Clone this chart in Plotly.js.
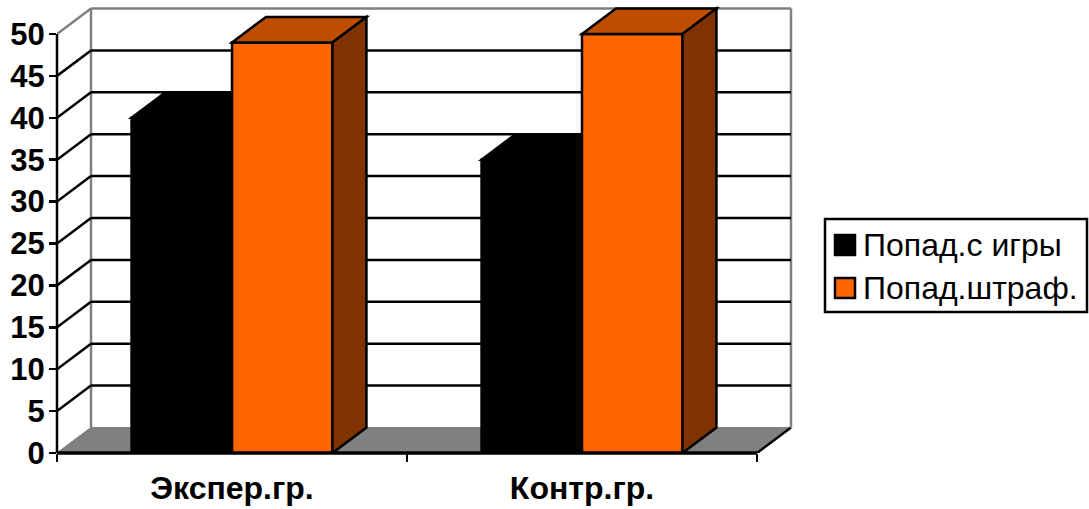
<!DOCTYPE html>
<html>
<head>
<meta charset="utf-8">
<script src="https://cdn.plot.ly/plotly-3.0.1.min.js"></script>
<style>html,body{margin:0;padding:0;background:#fff}</style>
</head>
<body>
<div id="chart" style="width:1089px;height:509px"></div>
<script>
// Chart data
const categories = ['Экспер.гр.', 'Контр.гр.'];
const seriesNames = ['Попад.с игры', 'Попад.штраф.'];
const goalsFromPlay = [40, 35];
const freeThrows = [49, 50];
const yTicks = [0, 5, 10, 15, 20, 25, 30, 35, 40, 45, 50];

// Colours
const BLACK = '#000000', WALL = '#808080';
const ORANGE = '#FF6600', ORANGE_TOP = '#BF4D00', ORANGE_SIDE = '#803300';

// Plot frame in pixels
const W = 1089, H = 509;
const L = 57, R = 793, T = 6, B = 453;
const UNIT_X = 350, UNIT_Y = 8.38;     // pixels per category / per value unit
const DX = 34 / UNIT_X, DY = 25.5 / UNIT_Y; // oblique depth in data units
const BARGAP = 0.426, BAR_W = (1 - BARGAP) / 2;
const EDGE = 2.5;

const xMin = -0.5, xMax = xMin + (R - L) / UNIT_X;
const yMax = (B - T) / UNIT_Y;
const xEnd = categories.length - 0.5;
const px = v => (v - L) / (R - L);
const py = v => (B - v) / (B - T);

const poly = pts => 'M' + pts.map(p => p[0] + ',' + p[1]).join('L') + 'Z';
const shapes = [];
const face = (pts, fill, line, width, layer) => shapes.push({
  type: 'path', xref: 'x', yref: 'y', layer, path: poly(pts),
  fillcolor: fill, line: {color: line, width}
});
const seg = (x0, y0, x1, y1, color, width, layer) => shapes.push({
  type: 'line', xref: 'x', yref: 'y', layer, x0, y0, x1, y1, line: {color, width}
});

// Floor and back walls
face([[xMin, 0], [xEnd, 0], [xEnd + DX, DY], [xMin + DX, DY]], WALL, WALL, 1, 'below');
seg(xEnd, 0, xEnd + DX, DY, BLACK, EDGE, 'below');
seg(xMin, 0, xMin + DX, DY, WALL, 1, 'below');
seg(xMin + DX, DY, xMin + DX, 50 + DY, WALL, EDGE, 'below');
seg(xEnd + DX, DY, xEnd + DX, 50 + DY, WALL, EDGE, 'below');
seg(xMin + DX, 50 + DY, xEnd + DX, 50 + DY, WALL, EDGE, 'below');
seg(xMin, 50, xMin + DX, 50 + DY, WALL, EDGE, 'below');
yTicks.slice(1, -1).forEach(v => {
  seg(xMin + DX, v + DY, xEnd + DX, v + DY, BLACK, EDGE, 'below');
  seg(xMin, v, xMin + DX, v + DY, BLACK, EDGE, 'below');
});

// Top and side faces of each bar, offset from its value by the depth
const addFaces = (values, seriesIndex, top, side, line, layer) => values.forEach((v, i) => {
  const x0 = i - (1 - BARGAP) / 2 + seriesIndex * BAR_W, x1 = x0 + BAR_W;
  face([[x0, v], [x1, v], [x1 + DX, v + DY], [x0 + DX, v + DY]], top, line, EDGE, layer);
  face([[x1, 0], [x1 + DX, DY], [x1 + DX, v + DY], [x1, v]], side, line, EDGE, layer);
});
addFaces(goalsFromPlay, 0, BLACK, BLACK, BLACK, 'below');
addFaces(freeThrows, 1, ORANGE_TOP, ORANGE_SIDE, BLACK, 'above');

// Front axis lines, anchored to the frame edge so they are not clipped
shapes.push({type: 'line', xref: 'paper', yref: 'y', x0: 0, x1: 0, y0: 0, y1: 50, layer: 'above',
  line: {color: BLACK, width: EDGE}});
shapes.push({type: 'line', xref: 'x', yref: 'paper', x0: xMin, x1: xEnd, y0: 0, y1: 0, layer: 'above',
  line: {color: BLACK, width: 3.5}});

// Legend box with its swatches
const legendBox = {x0: 825, x1: 1087, y0: 219, y1: 312};
const legendRows = [245, 288];
const legendFills = [BLACK, ORANGE];
shapes.push({type: 'rect', xref: 'paper', yref: 'paper', layer: 'above',
  x0: px(legendBox.x0), x1: px(legendBox.x1), y0: py(legendBox.y0), y1: py(legendBox.y1),
  fillcolor: '#fff', line: {color: BLACK, width: EDGE}});
legendRows.forEach((rowY, i) => shapes.push({type: 'rect', xref: 'paper', yref: 'paper', layer: 'above',
  x0: px(835), x1: px(855), y0: py(rowY - 10), y1: py(rowY + 10),
  fillcolor: legendFills[i], line: {color: BLACK, width: EDGE}}));
const annotations = legendRows.map((rowY, i) => ({
  xref: 'paper', yref: 'paper', x: px(862), y: py(rowY), xanchor: 'left', yanchor: 'middle',
  showarrow: false, text: seriesNames[i], borderpad: 0,
  font: {family: 'Liberation Sans, Arial, sans-serif', size: 32, color: BLACK}
}));

const barTrace = (name, values, color) => ({
  type: 'bar', name, x: categories.map((_, i) => i), y: values,
  marker: {color, line: {color: BLACK, width: EDGE}}, showlegend: false, hoverinfo: 'skip'
});

const data = [
  barTrace(seriesNames[0], goalsFromPlay, BLACK),
  barTrace(seriesNames[1], freeThrows, ORANGE)
];

const layout = {
  width: W, height: H,
  margin: {l: L, r: W - R, t: T, b: H - B, pad: 0},
  paper_bgcolor: '#fff', plot_bgcolor: '#fff',
  barmode: 'group', bargap: BARGAP, bargroupgap: 0,
  showlegend: false,
  font: {family: 'Liberation Sans, Arial, sans-serif', color: BLACK},
  xaxis: {
    range: [xMin, xMax], showgrid: false, zeroline: false, showline: false,
    tickmode: 'array', tickvals: categories.map((_, i) => i), ticktext: categories,
    ticks: '', ticklabelstandoff: 13,
    tickfont: {size: 32, weight: 'bold'},
    minor: {tickmode: 'array', tickvals: [-0.5, 0.5, 1.5], ticks: 'outside', ticklen: 8,
      tickwidth: EDGE, tickcolor: BLACK, showgrid: false}
  },
  yaxis: {
    range: [0, yMax], showgrid: false, zeroline: false, showline: false,
    tickmode: 'array', tickvals: yTicks,
    ticks: 'outside', ticklen: 7, tickwidth: EDGE, tickcolor: BLACK,
    ticklabelstandoff: -2,
    tickfont: {size: 31, weight: 'bold'}
  },
  shapes, annotations
};

Plotly.newPlot('chart', data, layout, {displayModeBar: false, staticPlot: true});
</script>
</body>
</html>
